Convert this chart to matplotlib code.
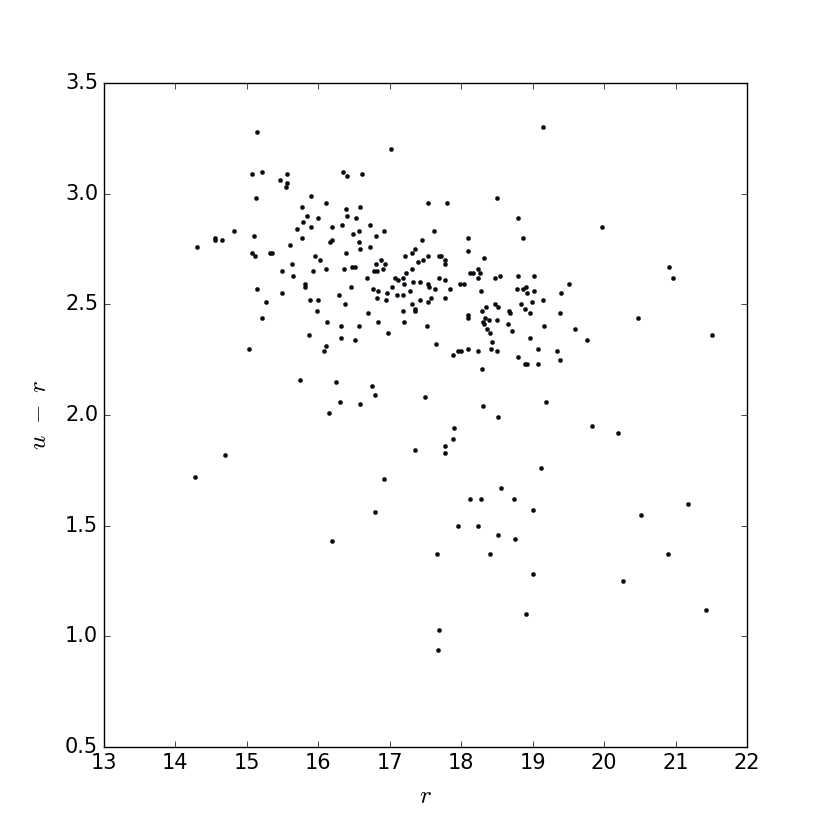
import matplotlib
matplotlib.use("Agg")
import matplotlib.pyplot as plt

plt.style.use("classic")

# r magnitude values
r_mag = [
    15.14, 15.07, 15.22, 15.47, 15.56, 15.57, 15.55, 15.13, 15.78, 15.85,
    15.79, 15.70, 15.77, 15.61, 14.82, 15.10, 14.55, 14.55, 14.65, 14.31,
    15.07, 15.12, 15.32, 15.35, 15.64, 15.50, 15.65, 15.82, 15.81, 15.14,
    15.90, 15.90, 17.02, 16.35, 16.40, 16.61, 16.11, 17.53, 17.80, 16.39,
    16.59, 16.00, 16.41, 16.34, 16.53, 16.19, 16.49, 16.57, 16.73, 16.92,
    16.81, 17.62, 16.20, 16.17, 16.57, 16.58, 16.72, 17.45, 17.36, 16.39,
    15.95, 16.03, 16.88, 17.22, 17.31, 17.53, 17.69, 17.72, 17.78, 17.78,
    17.39, 17.46, 16.81, 16.93, 16.91, 16.11, 16.36, 16.47, 16.51, 16.83,
    16.78, 15.93, 17.31, 17.23, 17.18, 17.07, 17.11, 16.68, 17.69, 17.77,
    16.46, 16.77, 17.04, 17.20, 17.33, 17.42, 17.53, 17.55, 17.63, 17.85,
    17.29, 16.84, 19.15, 18.50, 18.80, 19.97, 18.10, 18.86, 18.10, 18.32,
    18.23, 18.13, 18.16, 18.26, 18.24, 18.48, 18.55, 18.79, 19.02, 17.99,
    18.04, 19.51, 18.78, 18.86, 18.91, 18.28, 19.02, 15.49, 15.27, 15.21,
    15.88, 15.87, 15.03, 15.74, 14.69, 16.29, 16.00, 16.37, 16.96, 16.83,
    16.95, 17.10, 17.18, 17.42, 17.58, 17.54, 17.77, 17.31, 17.35, 17.35,
    17.18, 15.98, 16.70, 16.12, 16.32, 16.57, 16.84, 17.20, 17.52, 16.32,
    16.98, 16.52, 16.11, 16.08, 17.65, 17.88, 17.96, 18.00, 16.25, 16.75,
    16.79, 16.31, 16.58, 17.50, 16.15, 17.90, 17.88, 17.78, 17.78, 17.35,
    18.92, 19.40, 19.15, 18.48, 18.51, 18.35, 18.84, 18.99, 18.29, 18.67,
    18.68, 18.90, 18.96, 19.38, 18.09, 18.10, 18.33, 18.39, 18.50, 18.31,
    18.32, 18.36, 18.40, 18.66, 18.71, 19.16, 19.60, 18.96, 19.76, 18.43,
    18.42, 18.50, 18.24, 18.09, 19.07, 19.34, 19.39, 18.79, 18.89, 18.92,
    19.08, 18.29, 19.19, 18.31, 18.51, 19.83, 14.28, 16.92, 16.80, 17.95,
    16.20, 17.66, 17.69, 17.68, 19.12, 18.56, 18.13, 18.28, 18.74, 19.01,
    18.24, 18.52, 18.75, 18.41, 19.00, 18.91, 20.91, 20.97, 20.48, 21.51,
    20.19, 21.17, 20.51, 20.90, 20.26, 21.43,
]

# u - r colour values
u_minus_r = [
    3.28, 3.09, 3.10, 3.06, 3.09, 3.05, 3.03, 2.98, 2.94, 2.90,
    2.87, 2.84, 2.80, 2.77, 2.83, 2.81, 2.80, 2.79, 2.79, 2.76,
    2.73, 2.72, 2.73, 2.73, 2.68, 2.65, 2.63, 2.59, 2.58, 2.57,
    2.99, 2.85, 3.20, 3.10, 3.08, 3.09, 2.96, 2.96, 2.96, 2.93,
    2.94, 2.89, 2.90, 2.86, 2.89, 2.85, 2.82, 2.83, 2.86, 2.83,
    2.81, 2.83, 2.79, 2.78, 2.78, 2.75, 2.76, 2.79, 2.75, 2.73,
    2.72, 2.70, 2.70, 2.72, 2.73, 2.72, 2.72, 2.72, 2.70, 2.68,
    2.69, 2.70, 2.68, 2.68, 2.66, 2.66, 2.66, 2.67, 2.67, 2.65,
    2.65, 2.65, 2.66, 2.64, 2.62, 2.62, 2.61, 2.62, 2.62, 2.61,
    2.58, 2.57, 2.58, 2.59, 2.60, 2.60, 2.59, 2.58, 2.57, 2.57,
    2.56, 2.56, 3.30, 2.98, 2.89, 2.85, 2.80, 2.80, 2.74, 2.71,
    2.66, 2.64, 2.64, 2.64, 2.62, 2.62, 2.63, 2.63, 2.63, 2.59,
    2.59, 2.59, 2.57, 2.57, 2.58, 2.56, 2.56, 2.55, 2.51, 2.44,
    2.52, 2.36, 2.30, 2.16, 1.82, 2.54, 2.52, 2.50, 2.55, 2.53,
    2.52, 2.54, 2.54, 2.52, 2.53, 2.51, 2.53, 2.50, 2.48, 2.47,
    2.47, 2.47, 2.46, 2.42, 2.40, 2.40, 2.42, 2.42, 2.40, 2.35,
    2.37, 2.34, 2.31, 2.29, 2.32, 2.27, 2.29, 2.29, 2.15, 2.13,
    2.09, 2.06, 2.05, 2.08, 2.01, 1.94, 1.89, 1.86, 1.83, 1.84,
    2.55, 2.55, 2.52, 2.50, 2.49, 2.49, 2.50, 2.51, 2.47, 2.47,
    2.46, 2.48, 2.46, 2.46, 2.45, 2.44, 2.44, 2.43, 2.43, 2.42,
    2.41, 2.39, 2.37, 2.41, 2.38, 2.40, 2.39, 2.35, 2.34, 2.33,
    2.30, 2.29, 2.29, 2.30, 2.30, 2.29, 2.25, 2.26, 2.23, 2.23,
    2.23, 2.21, 2.06, 2.04, 1.99, 1.95, 1.72, 1.71, 1.56, 1.50,
    1.43, 1.37, 1.03, 0.94, 1.76, 1.67, 1.62, 1.62, 1.62, 1.57,
    1.50, 1.46, 1.44, 1.37, 1.28, 1.10, 2.67, 2.62, 2.44, 2.36,
    1.92, 1.60, 1.55, 1.37, 1.25, 1.12,
]

x_ticks = [13, 14, 15, 16, 17, 18, 19, 20, 21, 22]
y_ticks = [0.5, 1.0, 1.5, 2.0, 2.5, 3.0, 3.5]

fig = plt.figure(figsize=(8.3, 8.3), dpi=100, facecolor="white")
ax = fig.add_subplot(111)
ax.scatter(r_mag, u_minus_r, s=9, c="#0a0a14", edgecolors="#0a0a14", linewidths=0.3)
ax.set_xlim(13, 22)
ax.set_ylim(0.5, 3.5)
ax.set_xticks(x_ticks)
ax.set_yticks(y_ticks)
ax.set_xlabel(r"$r$", fontsize=18, labelpad=8)
ax.set_ylabel(r"$u\ -\ r$", fontsize=18, labelpad=10)
ax.tick_params(labelsize=15)

fig.savefig("out.png", dpi=100, facecolor="white")
